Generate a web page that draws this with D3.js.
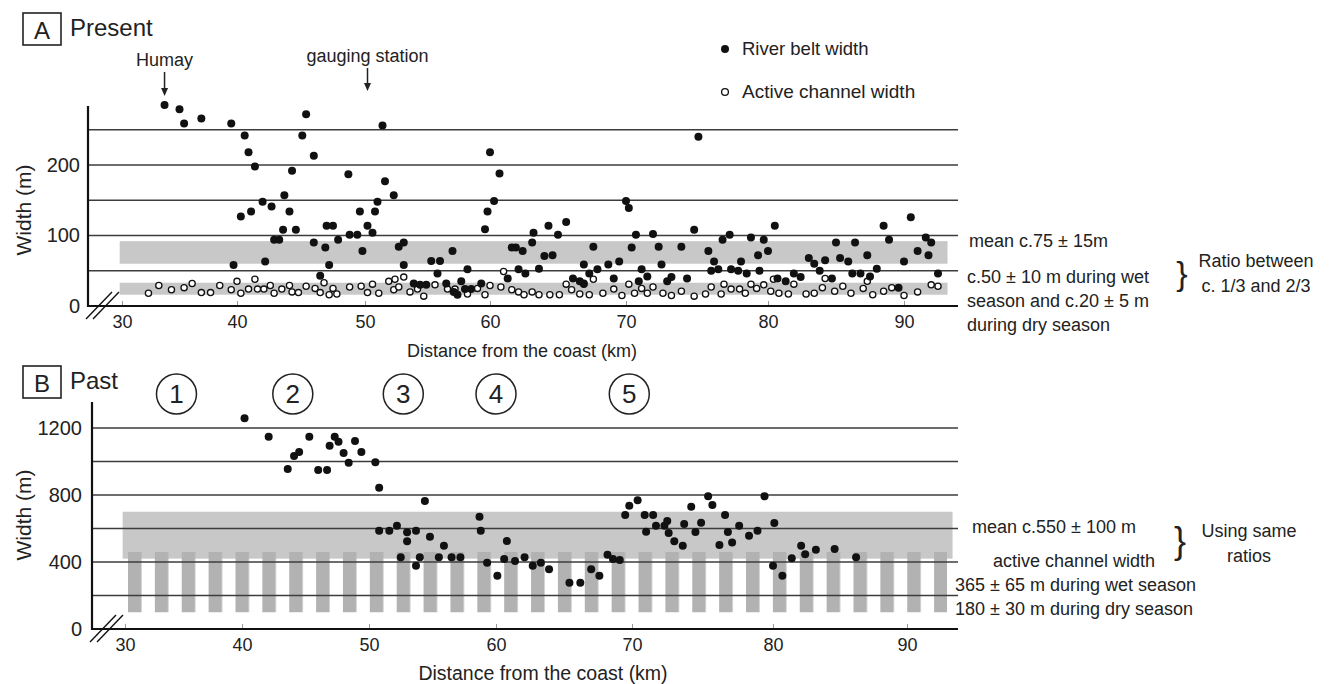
<!DOCTYPE html>
<html>
<head>
<meta charset="utf-8">
<script src="https://cdn.jsdelivr.net/npm/d3@7"></script>
<style>
  body { margin: 0; background: #fff; }
  svg { display: block; font-family: "Liberation Sans", Arial, sans-serif; }
</style>
</head>
<body>
<svg id="chart" width="1331" height="684"></svg>
<script>
// ---- data (km from coast, width in m) ----
const beltA = [
  [33.7,285],[35.0,279],[35.4,259],[36.9,266],[39.5,259],[40.6,242],[40.9,218],[41.4,198],
  [42.0,148],[41.1,134],[40.3,127],[42.7,141],[43.7,157],[44.1,134],[43.6,108],[42.9,94],
  [43.3,94],[42.2,63],[39.7,58],[44.3,192],[45.1,242],[45.4,272],[46.0,213],[44.6,108],
  [46.0,90],[46.9,83],[47.0,114],[47.5,114],[47.9,94],[47.2,58],[46.5,43],[48.7,187],
  [49.6,134],[48.8,101],[49.4,101],[49.8,78],[50.2,114],[50.6,104],[50.8,134],[51.0,148],
  [51.4,256],[51.6,177],[52.3,157],[52.7,84],[53.1,90],[53.1,58],[55.3,64],[56.0,64],
  [57.0,78],[55.8,46],[58.2,52],[59.6,109],[61.6,83],[61.9,83],[62.4,78],[62.1,52],
  [62.6,46],[61.3,39],[63.2,104],[53.9,32],[54.4,30],[54.9,30],[56.5,32],[57.1,20],
  [57.4,16],[57.7,35],[58.0,24],[58.5,24],[59.3,32],[60.0,218],[60.7,188],[60.3,149],
  [59.8,134],[63.1,90],[63.6,53],[64.0,71],[64.6,72],[64.3,114],[65.0,101],[65.6,119],
  [66.1,39],[66.6,35],[66.9,32],[66.9,59],[67.3,46],[67.6,84],[67.9,52],[68.7,59],
  [69.1,39],[69.5,63],[70.0,149],[70.2,139],[70.7,101],[70.4,83],[71.1,52],[70.9,35],
  [71.5,42],[71.9,102],[72.3,84],[72.5,59],[72.9,35],[73.2,41],[73.9,84],[74.3,39],
  [74.8,108],[75.1,240],[75.8,78],[76.2,63],[76.0,50],[76.5,52],[76.8,94],[77.3,101],
  [77.4,52],[77.9,50],[78.1,63],[78.5,46],[78.8,97],[79.3,72],[79.4,50],[79.7,94],
  [80.0,78],[80.5,114],[80.7,39],[81.3,35],[81.9,46],[82.4,41],[83.0,68],[83.4,60],
  [83.8,50],[84.2,65],[85.0,90],[84.7,39],[85.3,68],[85.9,63],[86.2,46],[86.8,46],
  [86.4,90],[87.3,72],[87.5,42],[88.0,53],[88.5,114],[88.9,94],[89.6,26],[90.0,63],
  [90.5,126],[91.0,78],[91.6,97],[92.0,90],[91.8,72],[92.5,46]
];
const channelA = [
  [32.3,18],[33.2,29],[34.3,23],[35.4,26],[36.1,32],[36.9,19],[37.7,19],[38.5,29],
  [39.5,23],[40.0,35],[40.3,18],[40.9,24],[41.4,38],[41.6,24],[42.1,24],[42.6,29],
  [42.9,18],[43.5,24],[44.1,29],[44.3,20],[44.8,19],[45.4,28],[46.1,25],[46.5,19],
  [46.8,33],[47.2,16],[47.5,25],[47.8,17],[48.8,27],[49.7,28],[50.2,19],[50.6,31],
  [51.1,18],[51.9,35],[52.4,38],[52.3,23],[52.7,27],[53.1,41],[53.6,20],[54.2,24],
  [54.7,14],[55.6,30],[56.6,24],[57.2,24],[58.2,17],[59.0,25],[59.6,16],[60.0,29],
  [60.8,27],[61.0,49],[61.6,23],[62.1,20],[62.5,16],[63.1,20],[63.6,16],[64.4,16],
  [65.1,16],[65.6,31],[66.0,23],[66.6,17],[66.9,31],[67.3,16],[67.6,38],[68.3,18],
  [69.1,24],[69.7,15],[70.2,31],[70.6,18],[71.1,25],[71.5,18],[71.9,27],[72.6,18],
  [73.2,15],[73.9,21],[74.8,14],[75.6,17],[76.0,27],[76.7,17],[76.9,31],[77.4,24],
  [78.0,24],[78.4,18],[78.8,31],[79.2,25],[79.7,30],[80.2,21],[80.4,38],[80.8,18],
  [81.5,17],[81.9,31],[82.8,17],[83.4,18],[84.0,26],[84.2,39],[84.9,21],[85.5,28],
  [86.1,18],[87.0,25],[87.3,35],[87.7,16],[88.5,21],[89.1,26],[90.0,15],[91.0,20],
  [92.0,30],[92.5,28]
];
const beltB = [
  [40.2,1258],[42.1,1148],[45.3,1148],[43.6,955],[44.1,1033],[44.5,1057],[46.0,949],[46.7,949],
  [46.9,1094],[47.3,1148],[47.6,1118],[48.0,1051],[48.4,993],[48.9,1122],[49.4,1057],[50.5,995],
  [50.8,844],[50.8,587],[51.6,587],[52.2,617],[53.0,577],[53.0,524],[53.7,587],[52.5,428],
  [53.7,378],[54.0,428],[54.4,764],[54.8,551],[55.5,428],[55.9,497],[56.5,428],[57.2,428],
  [58.7,670],[58.8,587],[59.3,396],[60.1,318],[60.6,418],[60.8,525],[61.4,406],[62.1,428],
  [62.7,378],[63.3,396],[63.9,356],[65.4,276],[66.2,276],[67.0,356],[67.6,318],[68.2,444],
  [68.6,418],[69.1,412],[69.5,681],[69.8,736],[70.4,768],[70.9,681],[71.0,581],[71.5,681],
  [71.7,617],[72.3,617],[72.5,645],[72.6,573],[73.0,524],[73.6,497],[73.7,627],[74.2,730],
  [74.5,579],[74.9,635],[75.4,792],[75.7,740],[76.2,501],[76.6,681],[76.8,579],[77.1,517],
  [77.6,617],[78.3,557],[78.9,587],[79.4,792],[80.1,633],[80.0,378],[80.7,318],[81.4,422],
  [82.1,497],[82.4,446],[83.2,473],[84.6,478],[86.2,428]
];
const xTicks = [30, 40, 50, 60, 70, 80, 90];
const gridA = [50, 100, 150, 200, 250];
const yTicksA = [0, 100, 200];
const gridB = [200, 400, 600, 800, 1000, 1200];
const yTicksB = [0, 400, 800, 1200];
const bandsA = [[60, 92], [16, 33]];   // mean belt width, active channel width
const bandB = [420, 700];              // mean belt width (past)
const stripeB = [100, 460];            // inferred active channel width (past)
const zones = [[1, 34.4], [2, 44.0], [3, 52.7], [4, 60.0], [5, 69.8]];

// ---- scales (the original axis is hand drawn, tick spacing is uneven) ----
const xA = d3.scaleLinear().domain(xTicks).range([122, 237, 365, 490, 626, 768, 904]);
const yA = d3.scaleLinear().domain([0, 200]).range([306, 165]);
const xB = d3.scaleLinear().domain(xTicks).range([125, 242, 369, 496, 632, 773, 907]);
const yB = d3.scaleLinear().domain([0, 1200]).range([629, 428]);

const svg = d3.select("#chart");
const defs = svg.append("defs");

defs.append("pattern")
    .attr("id", "stripes")
    .attr("patternUnits", "userSpaceOnUse")
    .attr("x", 128).attr("y", 0)
    .attr("width", 26.87).attr("height", 10)
    .append("rect")
    .attr("width", 13.5).attr("height", 10)
    .attr("fill", "#b2b2b2");

const BAND = "#c8c8c8";
const GRID = "#3c3c3c";

function panel(g, x, y, opt) {
    const x0 = opt.axisX, x1 = opt.right;

    // bands
    g.append("g").selectAll("rect")
        .data(opt.bands)
        .join("rect")
        .attr("x", x(opt.bandFrom))
        .attr("width", x(opt.bandTo) - x(opt.bandFrom))
        .attr("y", d => y(d[1]))
        .attr("height", d => y(d[0]) - y(d[1]))
        .attr("fill", BAND);

    if (opt.stripe) {
        g.append("rect")
            .attr("x", 128)
            .attr("width", 947 - 128)
            .attr("y", y(opt.stripe[1]))
            .attr("height", y(opt.stripe[0]) - y(opt.stripe[1]))
            .attr("fill", "url(#stripes)");
    }

    // horizontal grid lines
    g.append("g").selectAll("line")
        .data(opt.grid)
        .join("line")
        .attr("x1", x0).attr("x2", x1)
        .attr("y1", d => y(d)).attr("y2", d => y(d))
        .attr("stroke", GRID)
        .attr("stroke-width", 1.3);

    // x axis
    const xa = g.append("g")
        .attr("transform", `translate(0,${y(0)})`)
        .call(d3.axisBottom(x).tickValues(xTicks).tickSizeInner(-5).tickSizeOuter(0).tickPadding(9));
    xa.select(".domain").remove();
    xa.selectAll(".tick line").attr("stroke", "#999");
    xa.selectAll(".tick text").attr("font-size", 18).attr("fill", "#222");
    g.append("line")
        .attr("x1", x0).attr("x2", x1)
        .attr("y1", y(0)).attr("y2", y(0))
        .attr("stroke", "#111").attr("stroke-width", 2.2);

    // y axis
    const ya = g.append("g")
        .attr("transform", `translate(${x0},0)`)
        .call(d3.axisLeft(y).tickValues(opt.yTicks).tickFormat(d3.format("d"))
            .tickSize(0).tickPadding(opt.pad));
    ya.select(".domain").remove();
    ya.selectAll(".tick text").attr("font-size", 20).attr("fill", "#222");
    g.append("line")
        .attr("x1", x0).attr("x2", x0)
        .attr("y1", opt.axisTop).attr("y2", y(0) + 1)
        .attr("stroke", "#111").attr("stroke-width", 2.2);

    // axis break marks
    const by = y(0);
    [0, 7].forEach(dx => {
        g.append("line")
            .attr("x1", x0 - 2 + dx).attr("y1", by + 13)
            .attr("x2", x0 + 24 + dx).attr("y2", by - 14)
            .attr("stroke", "#111").attr("stroke-width", 1.4);
    });

    g.append("text")
        .attr("transform", `translate(${opt.labelX},${opt.labelY}) rotate(-90)`)
        .attr("text-anchor", "middle")
        .attr("font-size", 21)
        .attr("fill", "#222")
        .text("Width (m)");

    g.append("text")
        .attr("x", opt.titleX).attr("y", opt.titleY)
        .attr("text-anchor", "middle")
        .attr("font-size", opt.titleSize)
        .attr("fill", "#222")
        .text("Distance from the coast (km)");
}

function panelTag(letter, word, top) {
    svg.append("rect")
        .attr("x", 23).attr("y", top).attr("width", 38).attr("height", 32)
        .attr("fill", "none").attr("stroke", "#222").attr("stroke-width", 1.6);
    svg.append("text")
        .attr("x", 42).attr("y", top + 26).attr("text-anchor", "middle")
        .attr("font-size", 24).attr("fill", "#222").text(letter);
    svg.append("text")
        .attr("x", 70).attr("y", top + 23)
        .attr("font-size", 24).attr("fill", "#222").text(word);
}

// ================= Panel A =================
const gA = svg.append("g");
panel(gA, xA, yA, {
    axisX: 88, right: 958, axisTop: 106,
    bands: bandsA, bandFrom: 29.8, bandTo: 93.2,
    grid: gridA, yTicks: yTicksA, pad: 8,
    labelX: 31, labelY: 210,
    titleX: 522, titleY: 357, titleSize: 18
});

gA.append("g").selectAll("circle")
    .data(channelA)
    .join("circle")
    .attr("cx", d => xA(d[0])).attr("cy", d => yA(d[1]))
    .attr("r", 3.1)
    .attr("fill", "#fff").attr("stroke", "#111").attr("stroke-width", 1.3);

gA.append("g").selectAll("circle")
    .data(beltA)
    .join("circle")
    .attr("cx", d => xA(d[0])).attr("cy", d => yA(d[1]))
    .attr("r", 4)
    .attr("fill", "#111");

panelTag("A", "Present", 13);

// location arrows
function arrow(x, y0, y1, label, ly) {
    svg.append("text").attr("x", x).attr("y", ly).attr("text-anchor", "middle")
        .attr("font-size", 18).attr("fill", "#222").text(label);
    svg.append("line").attr("x1", x).attr("x2", x).attr("y1", y0).attr("y2", y1 - 6)
        .attr("stroke", "#222").attr("stroke-width", 1.5);
    svg.append("path")
        .attr("d", `M${x - 3.5},${y1 - 8}L${x + 3.5},${y1 - 8}L${x},${y1}Z`)
        .attr("fill", "#222");
}
arrow(xA(33.7), 72, 96, "Humay", 66);
arrow(xA(50.2), 68, 91, "gauging station", 62);

// legend
svg.append("circle").attr("cx", 725).attr("cy", 49).attr("r", 4).attr("fill", "#111");
svg.append("text").attr("x", 742).attr("y", 55).attr("font-size", 18.5).attr("fill", "#222")
    .text("River belt width");
svg.append("circle").attr("cx", 725).attr("cy", 92).attr("r", 3.4)
    .attr("fill", "#fff").attr("stroke", "#111").attr("stroke-width", 1.3);
svg.append("text").attr("x", 742).attr("y", 98).attr("font-size", 19).attr("fill", "#222")
    .text("Active channel width");

function lines(x, ys, arr, anchor) {
    arr.forEach((t, i) => {
        svg.append("text").attr("x", x).attr("y", ys[i])
            .attr("text-anchor", anchor || "start")
            .attr("font-size", 18).attr("fill", "#222").text(t);
    });
}
lines(969, [247], ["mean c.75 ± 15m"]);
lines(967, [283, 307, 331], ["c.50 ± 10 m during wet", "season and c.20 ± 5 m", "during dry season"]);
svg.append("text").attr("x", 1182).attr("y", 285).attr("text-anchor", "middle")
    .attr("font-size", 34).attr("font-weight", 300).attr("fill", "#222").text("}");
lines(1256, [267, 292], ["Ratio between", "c. 1/3 and 2/3"], "middle");

// ================= Panel B =================
const gB = svg.append("g");
panel(gB, xB, yB, {
    axisX: 92, right: 958, axisTop: 402,
    bands: [bandB], bandFrom: 29.8, bandTo: 93.4,
    grid: gridB, yTicks: yTicksB, pad: 10,
    stripe: stripeB,
    labelX: 31, labelY: 515,
    titleX: 543, titleY: 680, titleSize: 19.5
});

gB.append("g").selectAll("circle")
    .data(beltB)
    .join("circle")
    .attr("cx", d => xB(d[0])).attr("cy", d => yB(d[1]))
    .attr("r", 4)
    .attr("fill", "#111");

panelTag("B", "Past", 366);

const zg = svg.append("g").selectAll("g")
    .data(zones)
    .join("g")
    .attr("transform", d => `translate(${xB(d[1])},394)`);
zg.append("circle").attr("r", 20)
    .attr("fill", "none").attr("stroke", "#222").attr("stroke-width", 1.5);
zg.append("text").attr("text-anchor", "middle").attr("y", 9)
    .attr("font-size", 26).attr("fill", "#222").text(d => d[0]);

lines(972, [533], ["mean c.550 ± 100 m"]);
lines(993, [567], ["active channel width"]);
lines(955, [591, 615], ["365 ± 65 m during wet season", "180 ± 30 m during dry season"]);
svg.append("text").attr("x", 1180).attr("y", 553).attr("text-anchor", "middle")
    .attr("font-size", 36).attr("font-weight", 300).attr("fill", "#222").text("}");
lines(1249, [537, 562], ["Using same", "ratios"], "middle");
</script>
</body>
</html>
